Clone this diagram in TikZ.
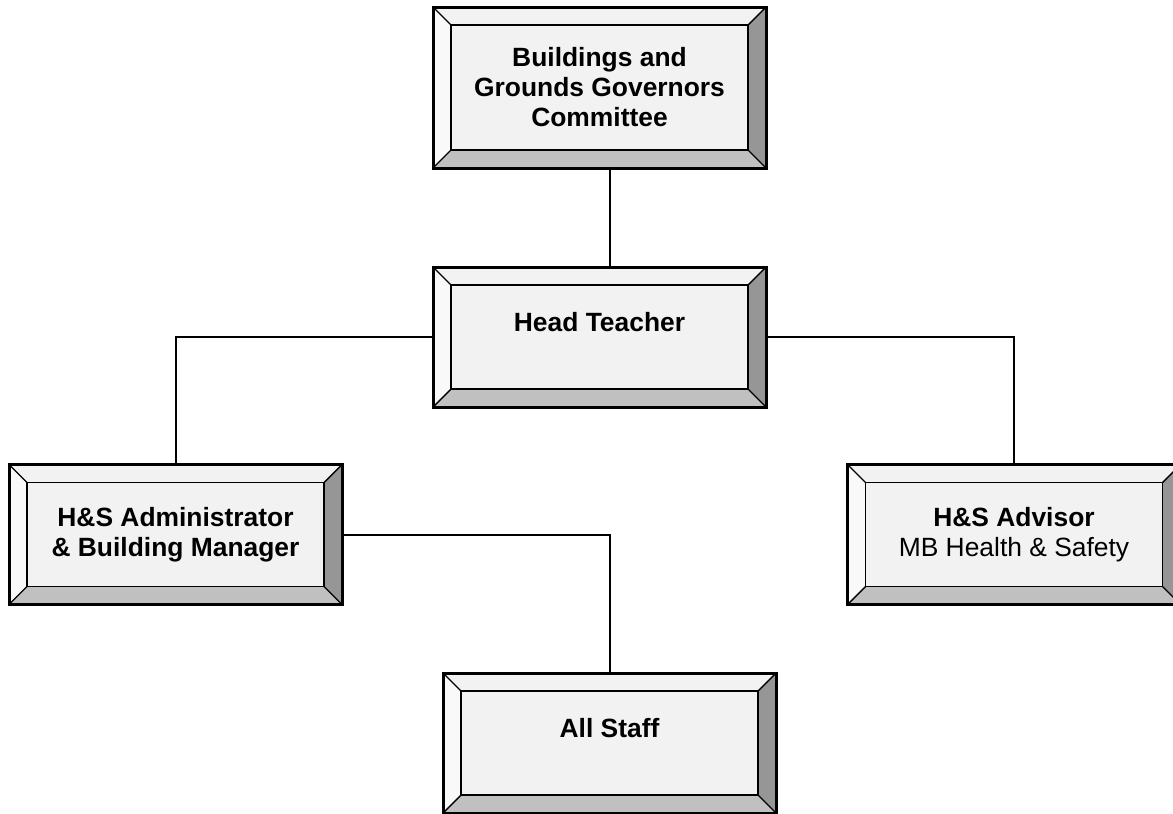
\documentclass[tikz,border=0pt]{standalone}
\usepackage{fontspec}
\setmainfont{Liberation Sans}
\usetikzlibrary{calc}

\definecolor{facegray}{HTML}{F2F2F2}
\definecolor{lightband}{HTML}{F9F9F9}
\definecolor{darkband}{HTML}{969696}
\definecolor{lowband}{HTML}{C0C0C0}

\tikzset{
  panel/.style={draw=black, line width=1.5pt, fill=facegray, align=center,
    font=\fontsize{13.2}{15}\selectfont\bfseries, minimum width=166.5pt,
    minimum height=70pt, inner sep=0pt, outer sep=0pt},
  link/.style={line width=1pt}
}

% bevelled frame round a named node
\newcommand{\bevel}[1]{%
  \fill[facegray] (#1.north west) -- (#1.north east) -- ([shift={(-9pt,-9pt)}]#1.north east) -- ([shift={(9pt,-9pt)}]#1.north west) -- cycle;
  \fill[lightband] (#1.north west) -- (#1.south west) -- ([shift={(9pt,9pt)}]#1.south west) -- ([shift={(9pt,-9pt)}]#1.north west) -- cycle;
  \fill[darkband] (#1.north east) -- (#1.south east) -- ([shift={(-9pt,9pt)}]#1.south east) -- ([shift={(-9pt,-9pt)}]#1.north east) -- cycle;
  \fill[lowband] (#1.south west) -- (#1.south east) -- ([shift={(-9pt,9pt)}]#1.south east) -- ([shift={(9pt,9pt)}]#1.south west) -- cycle;
  \draw[line width=0.7pt] ([shift={(9pt,-9pt)}]#1.north west) rectangle ([shift={(-9pt,9pt)}]#1.south east);
  \draw[line width=0.7pt] (#1.north west) -- ++(9pt,-9pt);
  \draw[line width=0.7pt] (#1.north east) -- ++(-9pt,-9pt);
  \draw[line width=0.7pt] (#1.south west) -- ++(9pt,9pt);
  \draw[line width=0.7pt] (#1.south east) -- ++(-9pt,9pt);
  \draw[line width=1.5pt] (#1.north west) rectangle (#1.south east);
}

\begin{document}
\begin{tikzpicture}[x=0.5pt,y=-0.5pt]

\useasboundingbox (0,0) rectangle (1173,814);

\node[panel, minimum height=80.5pt] (gbc) at (599.5,87.5) {Buildings and\\Grounds Governors\\Committee};
\node[panel] (head) at (599.5,337) {Head Teacher\\~};
\node[panel] (hsadmin) at (175.5,534.5) {H\&S Administrator\\\& Building Manager};
\node[panel] (advisor) at (1014,534.5) {H\&S Advisor\\{\mdseries MB Health \& Safety}};
\node[panel] (staff) at (609.5,743) {All Staff\\~};

\draw[link] (gbc.south -| staff.north) -- (head.north -| staff.north);
\draw[link] (head.west) -| (hsadmin.north);
\draw[link] (head.east) -| (advisor.north);
\draw[link] (hsadmin.east) -| (staff.north);

\foreach \b in {gbc,head,hsadmin,advisor,staff}
  \bevel{\b};

\end{tikzpicture}
\end{document}
